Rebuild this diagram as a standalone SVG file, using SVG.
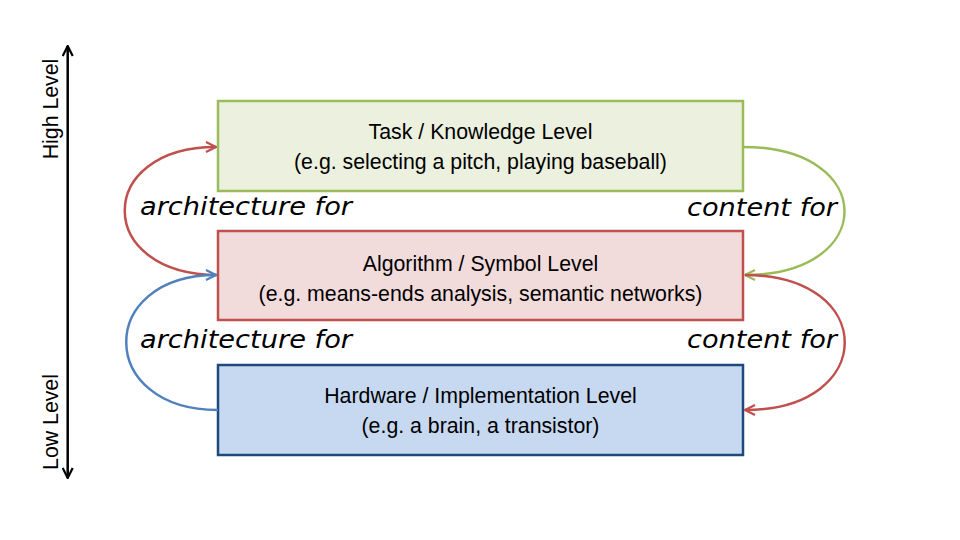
<svg xmlns="http://www.w3.org/2000/svg" width="960" height="540" viewBox="0 0 960 540">
<style>
.t{font-family:"Liberation Sans",Arial,sans-serif;font-size:21.3px;fill:#000;text-anchor:middle}
.s{font-family:"DejaVu Sans","Liberation Sans",sans-serif;font-style:italic;font-size:24px;fill:#000}
.box{stroke-width:2.5}
.c{fill:none;stroke-width:2.5}
</style>
<defs>
<marker id="ar" viewBox="0 0 12 12" refX="11" refY="6" markerWidth="12" markerHeight="12" markerUnits="userSpaceOnUse" orient="auto"><path d="M1,1 L11,6 L1,11" fill="none" stroke="#C0504D" stroke-width="2.2"/></marker>
<marker id="ab" viewBox="0 0 12 12" refX="11" refY="6" markerWidth="12" markerHeight="12" markerUnits="userSpaceOnUse" orient="auto"><path d="M1,1 L11,6 L1,11" fill="none" stroke="#4F81BD" stroke-width="2.2"/></marker>
<marker id="ag" viewBox="0 0 12 12" refX="11" refY="6" markerWidth="12" markerHeight="12" markerUnits="userSpaceOnUse" orient="auto"><path d="M1,1 L11,6 L1,11" fill="none" stroke="#9BBB59" stroke-width="2.2"/></marker>
<marker id="ak" viewBox="0 0 12 12" refX="11" refY="6" markerWidth="12" markerHeight="12" markerUnits="userSpaceOnUse" orient="auto"><path d="M1,1 L11,6 L1,11" fill="none" stroke="#000" stroke-width="2.2"/></marker>
</defs>
<rect width="960" height="540" fill="#fff"/>
<g id="axis">
<line x1="67.7" y1="260" x2="67.7" y2="46" stroke="#000" stroke-width="2.5" marker-end="url(#ak)"/>
<line x1="67.7" y1="260" x2="67.7" y2="478" stroke="#000" stroke-width="2.5" marker-end="url(#ak)"/>
<text class="t" transform="translate(58,109) rotate(-90)" style="text-anchor:middle">High Level</text>
<text class="t" transform="translate(58,422) rotate(-90)" style="text-anchor:middle">Low Level</text>
</g>
<g id="task">
<rect class="box" x="218" y="101" width="525" height="90" fill="#EBF1DE" stroke="#9BBB59"/>
<text class="t" x="480.5" y="139">Task / Knowledge Level</text>
<text class="t" x="480.5" y="169">(e.g. selecting a pitch, playing baseball)</text>
</g>
<g id="algorithm">
<rect class="box" x="218" y="231" width="525" height="89" fill="#F2DCDB" stroke="#C0504D"/>
<text class="t" x="480.5" y="271">Algorithm / Symbol Level</text>
<text class="t" x="480.5" y="301">(e.g. means-ends analysis, semantic networks)</text>
</g>
<g id="hardware">
<rect class="box" x="218" y="365" width="525" height="90" fill="#C6D9F1" stroke="#1F497D"/>
<text class="t" x="480.5" y="403">Hardware / Implementation Level</text>
<text class="t" x="480.5" y="433">(e.g. a brain, a transistor)</text>
</g>
<g id="connectors">
<path class="c" stroke="#C0504D" d="M218,275 C94,275 94,147 216,147" marker-end="url(#ar)"/>
<path class="c" stroke="#4F81BD" d="M218,410 C96,410 96,275 216,275" marker-end="url(#ab)"/>
<path class="c" stroke="#9BBB59" d="M743,147 C878,147 878,275 745,275" marker-end="url(#ag)"/>
<path class="c" stroke="#C0504D" d="M745,275 C878,275 878,410 745,410" marker-end="url(#ar)"/>
</g>
<g id="labels">
<text class="s" x="140" y="215" textLength="212" lengthAdjust="spacingAndGlyphs">architecture for</text>
<text class="s" x="140" y="348" textLength="212" lengthAdjust="spacingAndGlyphs">architecture for</text>
<text class="s" x="687" y="216" textLength="150" lengthAdjust="spacingAndGlyphs">content for</text>
<text class="s" x="687" y="348" textLength="150" lengthAdjust="spacingAndGlyphs">content for</text>
</g>
</svg>
